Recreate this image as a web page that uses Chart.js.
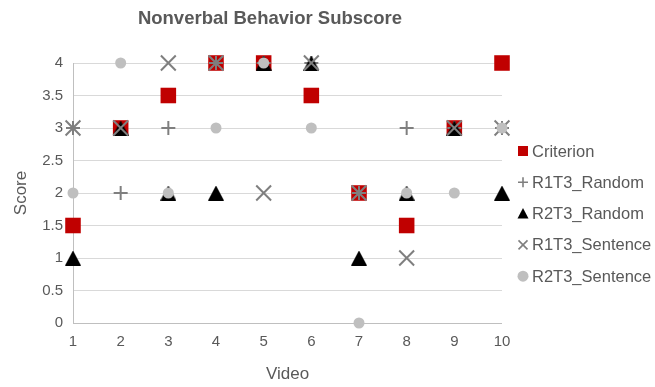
<!DOCTYPE html>
<html>
<head>
<meta charset="utf-8">
<script src="https://cdn.jsdelivr.net/npm/chart.js@4.4.0/dist/chart.umd.min.js"></script>
<style>
  html, body { margin: 0; padding: 0; background: #ffffff; }
  #wrap { width: 655px; height: 387px; }
</style>
</head>
<body>
<div id="wrap"><canvas id="c" width="655" height="387"></canvas></div>
<script>
// Scores per video for each rater series
const videos = [1, 2, 3, 4, 5, 6, 7, 8, 9, 10];
const criterion    = [1.5, 3, 3.5, 4, 4, 3.5, 2, 1.5, 3, 4];
const r1t3Random   = [3, 2, 3, 4, 4, 4, 2, 3, 3, 3];
const r2t3Random   = [1, 3, 2, 2, 4, 4, 1, 2, 3, 2];
const r1t3Sentence = [3, 3, 4, 4, 2, 4, 2, 1, 3, 3];
const r2t3Sentence = [2, 4, 2, 3, 4, 3, 0, 2, 2, 3];
const seriesNames  = ['Criterion', 'R1T3_Random', 'R2T3_Random', 'R1T3_Sentence', 'R2T3_Sentence'];
const yTickValues  = [0, 0.5, 1, 1.5, 2, 2.5, 3, 3.5, 4];
const chartTitle   = 'Nonverbal Behavior Subscore';
const xTitle = 'Video';
const yTitle = 'Score';

const FONT = '"Liberation Sans", Arial, Helvetica, sans-serif';
const TEXT = '#595959';

// Centered triangle marker (Chart.js' own triangle sits off-center)
function triangleCanvas(w, h, color) {
  const cv = document.createElement('canvas');
  cv.width = w; cv.height = h;
  const g = cv.getContext('2d');
  g.fillStyle = color;
  g.beginPath();
  g.moveTo(w / 2, 0);
  g.lineTo(w, h);
  g.lineTo(0, h);
  g.closePath();
  g.fill();
  return cv;
}
const triMarker = triangleCanvas(16, 15, '#000000');

const toPoints = arr => videos.map((v, i) => ({ x: v, y: arr[i] }));

const styles = [
  { pointStyle: 'rect',     pointRadius: 11,  backgroundColor: '#C00000', borderColor: '#C00000', borderWidth: 0, order: 5 },
  { pointStyle: 'cross',    pointRadius: 7,   backgroundColor: '#7F7F7F', borderColor: '#7F7F7F', borderWidth: 2, order: 4 },
  { pointStyle: triMarker,  pointRadius: 8,   backgroundColor: '#000000', borderColor: '#000000', borderWidth: 0, order: 3 },
  { pointStyle: 'crossRot', pointRadius: 10.5, backgroundColor: '#7F7F7F', borderColor: '#7F7F7F', borderWidth: 2, order: 2 },
  { pointStyle: 'circle',   pointRadius: 5.5, backgroundColor: '#BFBFBF', borderColor: '#BFBFBF', borderWidth: 0, order: 1 }
];
const seriesValues = [criterion, r1t3Random, r2t3Random, r1t3Sentence, r2t3Sentence];

const datasets = seriesNames.map((name, i) => Object.assign({
  label: name,
  data: toPoints(seriesValues[i]),
  showLine: false,
  clip: false,
  pointHoverRadius: styles[i].pointRadius
}, styles[i]));

// Legend marker drawing
function drawLegendMarker(ctx, kind, x, y) {
  ctx.save();
  switch (kind) {
    case 0:
      ctx.fillStyle = '#C00000';
      ctx.fillRect(x - 5, y - 5, 10, 10);
      break;
    case 1:
      ctx.strokeStyle = '#7F7F7F'; ctx.lineWidth = 1.6;
      ctx.beginPath();
      ctx.moveTo(x - 5, y); ctx.lineTo(x + 5, y);
      ctx.moveTo(x, y - 5); ctx.lineTo(x, y + 5);
      ctx.stroke();
      break;
    case 2:
      ctx.fillStyle = '#000000';
      ctx.beginPath();
      ctx.moveTo(x, y - 5.5); ctx.lineTo(x + 5.5, y + 5); ctx.lineTo(x - 5.5, y + 5);
      ctx.closePath(); ctx.fill();
      break;
    case 3:
      ctx.strokeStyle = '#7F7F7F'; ctx.lineWidth = 1.6;
      ctx.beginPath();
      ctx.moveTo(x - 4.5, y - 4.5); ctx.lineTo(x + 4.5, y + 4.5);
      ctx.moveTo(x + 4.5, y - 4.5); ctx.lineTo(x - 4.5, y + 4.5);
      ctx.stroke();
      break;
    case 4:
      ctx.fillStyle = '#BFBFBF';
      ctx.beginPath(); ctx.arc(x, y, 5.5, 0, Math.PI * 2); ctx.fill();
      break;
  }
  ctx.restore();
}

const titleAndLegend = {
  id: 'titleAndLegend',
  afterDraw(chart) {
    const ctx = chart.ctx;
    ctx.save();
    ctx.fillStyle = TEXT;
    ctx.font = 'bold 18.5px ' + FONT;
    ctx.textAlign = 'center';
    ctx.textBaseline = 'middle';
    ctx.fillText(chartTitle, 270, 19);

    ctx.font = '16.5px ' + FONT;
    ctx.textAlign = 'left';
    chart.data.datasets.forEach((ds, i) => {
      const y = 151 + i * 31.3;
      drawLegendMarker(ctx, i, 523, y);
      ctx.fillStyle = TEXT;
      ctx.fillText(ds.label, 532, y + 1);
    });
    ctx.restore();
  }
};

new Chart(document.getElementById('c'), {
  type: 'scatter',
  data: { datasets },
  options: {
    responsive: false,
    animation: false,
    events: [],
    layout: { padding: { top: 63, right: 153, left: 0, bottom: 0 } },
    plugins: {
      legend: { display: false },
      title: { display: false },
      tooltip: { enabled: false }
    },
    scales: {
      x: {
        type: 'linear',
        min: 1, max: 10,
        afterFit(scale) { scale.height = 64; },
        afterBuildTicks(scale) { scale.ticks = videos.map(v => ({ value: v })); },
        ticks: { color: TEXT, font: { family: FONT, size: 15 }, padding: 10, maxRotation: 0, callback: v => String(v) },
        grid: { display: false, drawTicks: false },
        border: { display: false },
        title: { display: true, text: xTitle, color: TEXT, font: { family: FONT, size: 17 }, padding: { top: 0, bottom: 2 } }
      },
      y: {
        type: 'linear',
        min: 0, max: 4,
        afterFit(scale) { scale.width = 73; },
        afterBuildTicks(scale) { scale.ticks = yTickValues.map(v => ({ value: v })); },
        ticks: { color: TEXT, font: { family: FONT, size: 15 }, padding: 10, callback: v => String(v) },
        grid: {
          drawTicks: false,
          lineWidth: 1,
          color: ctx => (ctx.tick && ctx.tick.value === 0) ? '#BFBFBF' : '#D9D9D9'
        },
        border: { display: true, color: '#BFBFBF', width: 1 },
        title: { display: true, text: yTitle, color: TEXT, font: { family: FONT, size: 17 }, padding: { top: 11, bottom: 0 } }
      }
    }
  },
  plugins: [titleAndLegend]
});
</script>
</body>
</html>
